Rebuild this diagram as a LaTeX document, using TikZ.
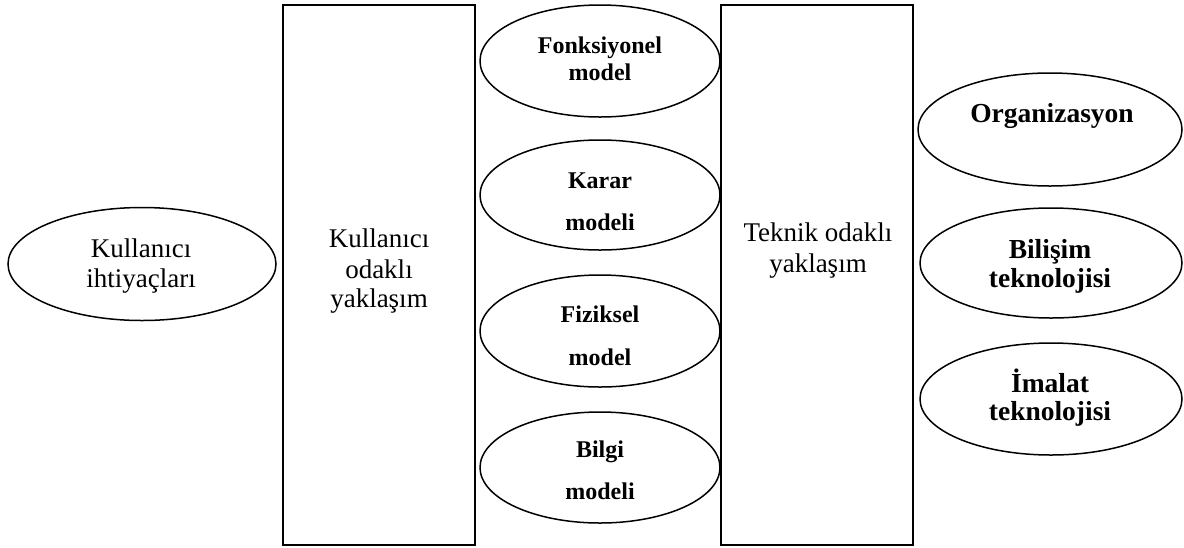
\documentclass[tikz,border=0pt]{standalone}
\usepackage{fontspec}
\setmainfont{Liberation Serif}
\usetikzlibrary{shapes.geometric}
\begin{document}
\begin{tikzpicture}[x=1pt,y=-1pt,
  oval/.style={ellipse,draw,line width=1.5pt,inner sep=0pt},
  panel/.style={draw,line width=1.8pt,inner sep=0pt},
  plain/.style={anchor=base,inner sep=0pt,font=\fontsize{27}{31}\selectfont},
  heavy/.style={anchor=base,inner sep=0pt,font=\fontsize{24}{28}\selectfont\bfseries},
  heavyR/.style={anchor=base,inner sep=0pt,font=\fontsize{27.5}{31}\selectfont\bfseries}]
\useasboundingbox (0,0) rectangle (1184,547);

% two tall approach panels
\node[panel,minimum width=192pt,minimum height=540pt] (user) at (379,275) {};
\node[panel,minimum width=192pt,minimum height=540pt] (tech) at (817,275) {};

% user needs
\node[oval,minimum width=268pt,minimum height=113pt] (needs) at (142,264) {};
\node[plain] (needsA) at (141,257) {Kullanıcı};
\node[plain] (needsB) at (141,287) {ihtiyaçları};

% panel captions
\node[plain] (userA) at (379,247) {Kullanıcı};
\node[plain] (userB) at (379,278) {odaklı};
\node[plain] (userC) at (379,307) {yaklaşım};
\node[plain] (techA) at (818,241) {Teknik odaklı};
\node[plain] (techB) at (818,272) {yaklaşım};

% models between the panels
\node[oval,minimum width=240pt,minimum height=112pt] (fonk) at (600,61) {};
\node[heavy] (fonkA) at (600,53) {Fonksiyonel};
\node[heavy] (fonkB) at (600,80) {model};

\node[oval,minimum width=240pt,minimum height=110pt] (karar) at (600,195) {};
\node[heavy] (kararA) at (600,188) {Karar};
\node[heavy] (kararB) at (600,230) {modeli};

\node[oval,minimum width=240pt,minimum height=112pt] (fiz) at (600,331) {};
\node[heavy] (fizA) at (600,322) {Fiziksel};
\node[heavy] (fizB) at (600,365) {model};

\node[oval,minimum width=240pt,minimum height=111pt] (bilgi) at (600,467.5) {};
\node[heavy] (bilgiA) at (600,457) {Bilgi};
\node[heavy] (bilgiB) at (600,499) {modeli};

% technical factors
\node[oval,minimum width=264pt,minimum height=113pt] (org) at (1050,129.5) {};
\node[heavyR] (orgA) at (1052,122) {Organizasyon};

\node[oval,minimum width=262pt,minimum height=110pt] (bt) at (1051,263) {};
\node[heavyR] (btA) at (1050,258) {Bilişim};
\node[heavyR] (btB) at (1050,287) {teknolojisi};

\node[oval,minimum width=262pt,minimum height=112pt] (it) at (1051,399) {};
\node[heavyR] (itA) at (1050,392) {İmalat};
\node[heavyR] (itB) at (1050,420) {teknolojisi};
\end{tikzpicture}
\end{document}
